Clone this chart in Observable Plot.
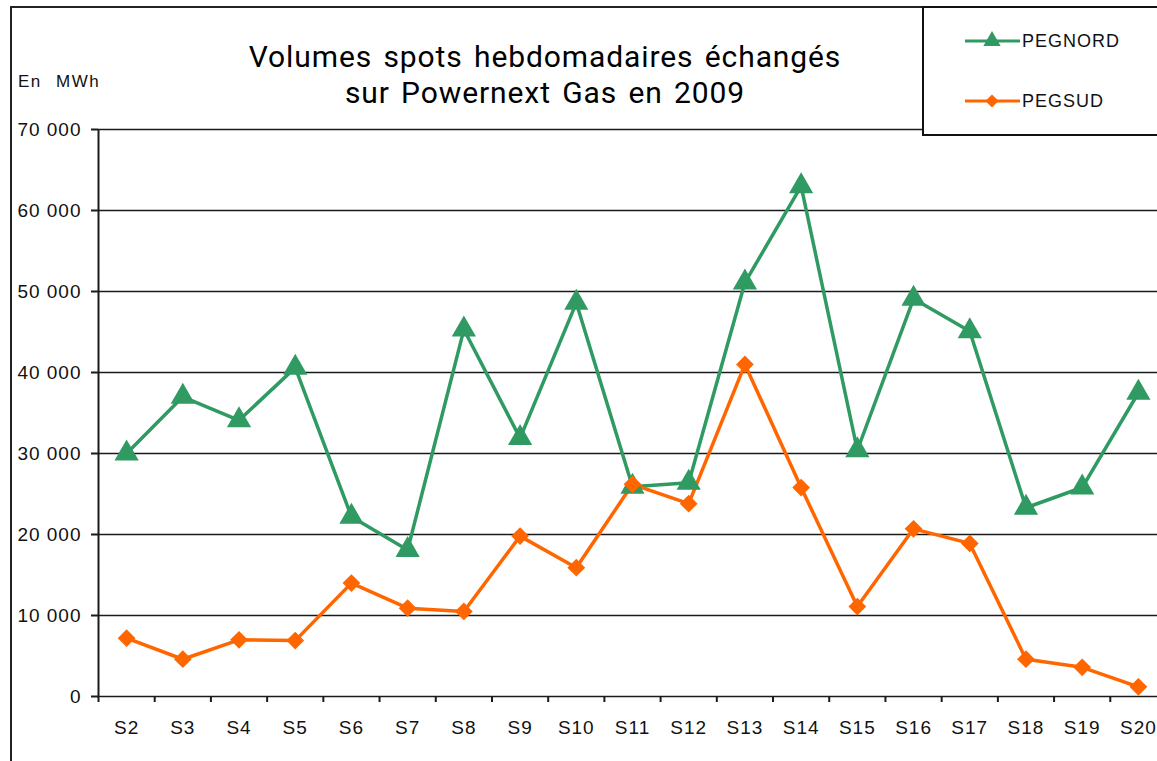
<!DOCTYPE html>
<html><head><meta charset="utf-8">
<script src="https://cdn.jsdelivr.net/npm/d3@7"></script>
<script src="https://cdn.jsdelivr.net/npm/@observablehq/plot@0.6"></script>
<style>
html,body{margin:0;padding:0;overflow:hidden;background:#fff;}
#wrap{position:relative;width:1157px;height:761px;overflow:hidden;}
#frame{position:absolute;left:10px;top:6px;width:1300px;height:900px;border-left:2px solid #222;border-top:2px solid #222;}
.title{position:absolute;left:145px;width:800px;text-align:center;font-family:Roboto,"Open Sans",sans-serif;font-size:30px;line-height:36px;height:36px;letter-spacing:0.9px;word-spacing:3px;color:#000;white-space:nowrap;}
#t1{top:39px;}
#t2{top:75px;}
#unit{position:absolute;left:18px;top:72px;font-family:"Liberation Sans",Arial,sans-serif;font-size:17px;letter-spacing:1.5px;word-spacing:8px;color:#111;}
#chart{position:absolute;left:0;top:0;width:1166px;}
#chart svg{max-width:none !important;}
#legend{position:absolute;left:922px;top:6px;width:300px;height:126px;border:2px solid #111;background:#fff;}
</style>
</head><body>
<div id="wrap">
  <div id="frame"></div>
  <div id="chart"></div>
  <div class="title" id="t1">Volumes spots hebdomadaires échangés</div>
  <div class="title" id="t2">sur Powernext Gas en 2009</div>
  <div id="unit">En MWh</div>
  <div id="legend"></div>
</div>
<script>
const weeks = ["S2","S3","S4","S5","S6","S7","S8","S9","S10","S11","S12","S13","S14","S15","S16","S17","S18","S19","S20"];
const pegNord = [30000,37000,34100,40600,22200,18100,45300,31900,48600,25900,26400,51100,63000,30400,49100,45100,23300,25800,37500];
const pegSud  = [7200,4600,7000,6900,14000,10900,10500,19800,15900,26200,23800,41000,25800,11100,20700,18900,4600,3600,1200];
const seriesNames = ["PEGNORD","PEGSUD"];
const seriesColors = ["#2f9a62","#ff6600"];
const seriesSymbols = ["triangle","diamond2"];
const yTicks = [0,10000,20000,30000,40000,50000,60000,70000];

const data = weeks.flatMap((w, i) => [
  {i, week: w, series: "PEGNORD", v: pegNord[i]},
  {i, week: w, series: "PEGSUD", v: pegSud[i]}
]);
const idx = d3.range(weeks.length);
const bounds = d3.range(weeks.length).map(k => k - 0.5);
const fmt = d => d === 0 ? "0" : d3.format(",")(d).replace(/,/g, " ");

const chart = Plot.plot({
  width: 1166, height: 761,
  marginLeft: 98, marginRight: 0, marginTop: 129, marginBottom: 65,
  x: {type: "linear", domain: [-0.5, weeks.length - 0.5], axis: null},
  y: {domain: [0, 70000], axis: null},
  color: {domain: seriesNames, range: seriesColors},
  symbol: {domain: seriesNames, range: seriesSymbols},
  style: {fontFamily: "'Liberation Sans', Arial, sans-serif", fontSize: "19px", letterSpacing: "1px", color: "#111", background: "transparent", maxWidth: "none"},
  marks: [
    Plot.ruleY(yTicks, {stroke: "#1a1a1a", strokeWidth: 1.6}),
    Plot.axisY({ticks: yTicks, tickSize: 7, tickPadding: 10, tickFormat: fmt, label: null, stroke: "#1a1a1a", strokeWidth: 2, fill: "#111", fontSize: 19}),
    Plot.ruleX([-0.5], {y1: 0, y2: 70000, stroke: "#1a1a1a", strokeWidth: 2}),
    Plot.axisX({ticks: bounds, tickSize: 6, tickFormat: () => "", label: null, stroke: "#1a1a1a", strokeWidth: 2}),
    Plot.axisX({ticks: idx, tickSize: 0, tickPadding: 24, tickFormat: i => weeks[i], label: null, fill: "#111", fontSize: 19}),
    Plot.line(data, {x: "i", y: "v", z: "series", stroke: "series", strokeWidth: 3.5}),
    Plot.dot(data, {filter: d => d.series === "PEGNORD", x: "i", y: "v", fill: "series", symbol: "series", r: 9, stroke: "none"}),
    Plot.dot(data, {filter: d => d.series === "PEGSUD", x: "i", y: "v", fill: "series", symbol: "series", r: 8, stroke: "none"})
  ]
});
document.getElementById("chart").appendChild(chart);

// legend
const lg = d3.select("#legend").append("svg").attr("width", 300).attr("height", 126)
  .style("font-family", "'Liberation Sans', Arial, sans-serif").style("font-size", "18px").style("letter-spacing", "1px");
const lrows = [{y: 33}, {y: 93}];
seriesNames.forEach((name, k) => {
  const g = lg.append("g").attr("transform", `translate(0,${lrows[k].y})`);
  g.append("line").attr("x1", 41).attr("x2", 96).attr("stroke", seriesColors[k]).attr("stroke-width", 3);
  const sym = k === 0 ? d3.symbolTriangle : d3.symbolDiamond2;
  g.append("path").attr("d", d3.symbol(sym, k === 0 ? 130 : 110)()).attr("transform", "translate(68,0)").attr("fill", seriesColors[k]);
  g.append("text").attr("x", 98).attr("dy", "0.35em").attr("fill", "#111").text(name);
});
</script>
</body></html>
